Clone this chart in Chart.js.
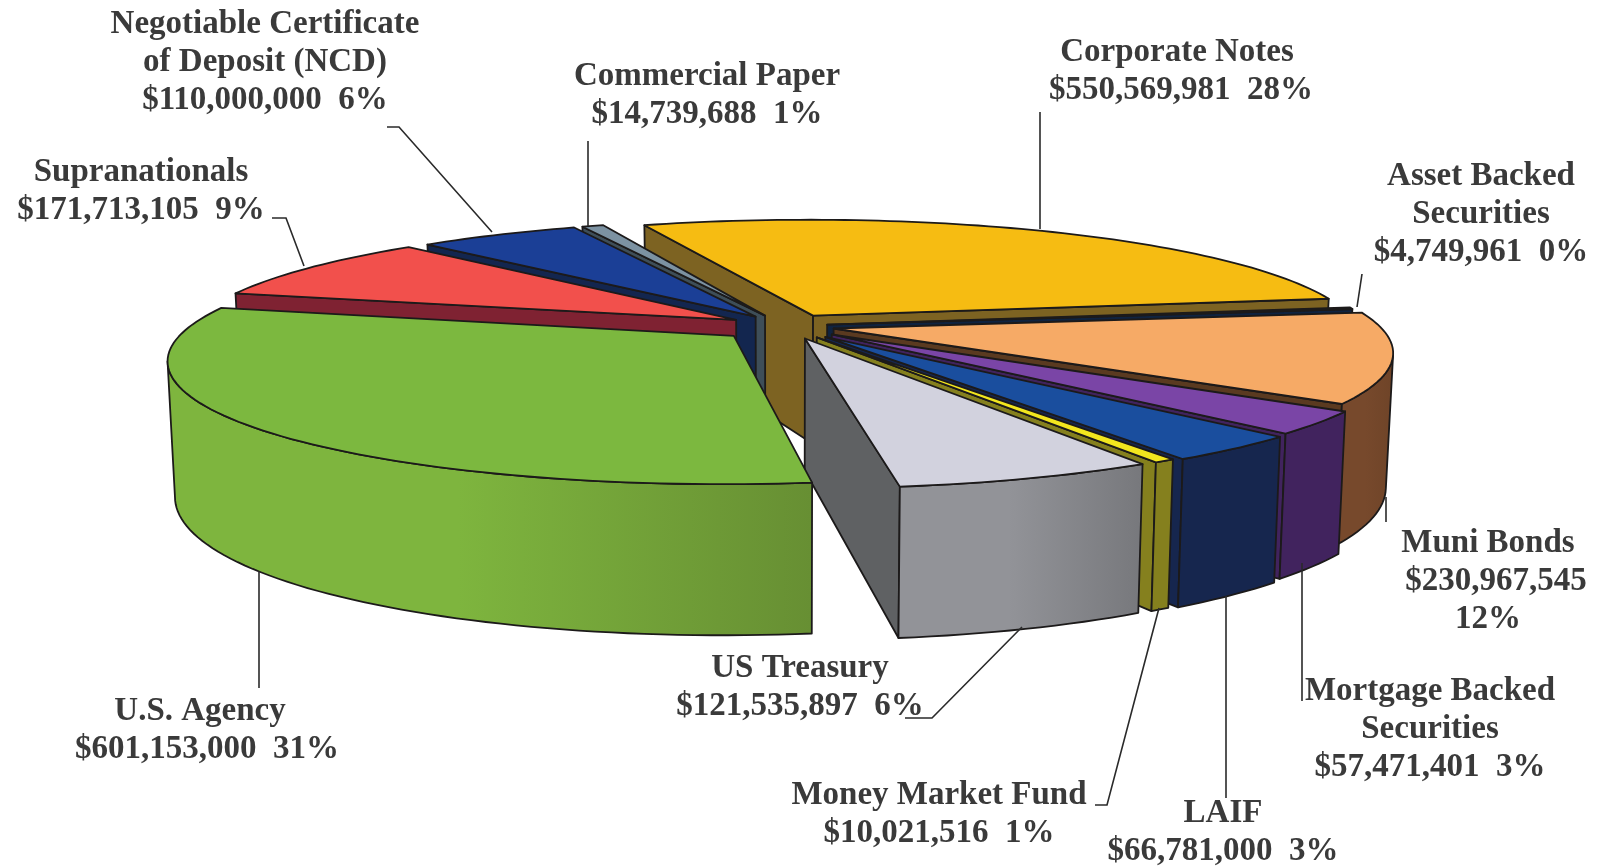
<!DOCTYPE html>
<html>
<head>
<meta charset="utf-8">
<title>Investment portfolio</title>
<script src="https://cdn.jsdelivr.net/npm/chart.js@4"></script>
<style>
  html, body { margin: 0; padding: 0; background: #fff; }
  #wrap { width: 1598px; height: 868px; }
</style>
</head>
<body>
<div id="wrap"><canvas id="pie"></canvas></div>
<script>
const categories = ["Corporate Notes", "Asset Backed Securities", "Muni Bonds", "Mortgage Backed Securities", "LAIF", "Money Market Fund", "US Treasury", "U.S. Agency", "Supranationals", "Negotiable Certificate of Deposit (NCD)", "Commercial Paper"];
const amounts = [550569981, 4749961, 230967545, 57471401, 66781000, 10021516, 121535897, 601153000, 171713105, 110000000, 14739688];
const percents = [28, 0, 12, 3, 3, 1, 6, 31, 9, 6, 1];

const topColors = ["#f6bc12", "#10233f", "#f6aa66", "#7a45a6", "#1a4e9e", "#f2e61e", "#d2d2de", "#7cb83f", "#f2504c", "#1b3f96", "#7c92a2"];
const sideColors = ["#7d6322", "#10233f", "#77492c", "#41235e", "#16264e", "#85801e", "#929398", "#7eb53e", "#7f2232", "#13264f", "#3e4e58"];
const sideDarkColors = ["#7d6322", "#10233f", "#6f4428", "#41235e", "#16264e", "#85801e", "#77787c", "#678f33", "#7f2232", "#13264f", "#3e4e58"];
const cutColors = ["#7d6322", "#10233f", "#5a3a20", "#41235e", "#16264e", "#85801e", "#5f6163", "#6f9b36", "#7f2232", "#13264f", "#3e4e58"];
const sliceOffsets = [32, 24, 28, 34, 36, 34, 34, 38, 32, 30, 30];

// back to front
const paintOrder = [0, 10, 9, 8, 1, 2, 3, 4, 5, 6, 7];

// label text, one row per line; $ and % rows are filled in from the arrays above
const labelRows = [
  ["Corporate Notes"], ["Asset Backed", "Securities"], ["Muni Bonds"], ["Mortgage Backed", "Securities"], ["LAIF"],
  ["Money Market Fund"], ["US Treasury"], ["U.S. Agency"], ["Supranationals"], ["Negotiable Certificate", "of Deposit (NCD)"], ["Commercial Paper"]
];
const labelAnchors = [[1177, 61], [1481, 185], [1490, 552], [1430, 700], [1223, 822], [939, 804], [800, 677], [204, 720], [141, 181], [265, 33], [707, 85]];
// rows that sit off the shared centre line, as in the original layout
const rowShifts = { 0: [0, 4], 2: [-2, 6, -2], 7: [-4, 3] };
const leaderLines = [
  [[1040, 112], [1040, 229]],
  [[1362, 274], [1357, 307]],
  [[1386, 497], [1386, 522]],
  [[1302, 563], [1302, 701]],
  [[1226, 596], [1226, 798]],
  [[1095, 805], [1107, 805], [1159, 608]],
  [[1022, 627], [932, 718], [905, 718]],
  [[259, 571], [259, 688]],
  [[272, 218], [286, 218], [304, 266]],
  [[387, 127], [399, 127], [492, 232]],
  [[588, 141], [588, 226]]
];

const view = { a: 546, b: 117, persp: 0.184, depth: 130, depthPersp: 0.15, shrink: 0.988 };

function money(n) {
  return "$" + n.toLocaleString("en-US");
}

// plane coordinates (unit radius) to screen
function project(cx, cy, u, v) {
  const s = 1 / (1 - view.persp * v);
  return [cx + view.a * u * s, cy + view.b * v * s];
}

function projectLow(cx, cy, u, v) {
  const s = 1 / (1 - view.persp * v);
  return [cx + view.a * u * s * view.shrink, cy + view.b * v * s + view.depth * (1 + view.depthPersp * v)];
}

function pathOf(ctx, pts) {
  ctx.beginPath();
  pts.forEach((p, i) => i ? ctx.lineTo(p[0], p[1]) : ctx.moveTo(p[0], p[1]));
  ctx.closePath();
}

function fillShape(ctx, pts, fill) {
  pathOf(ctx, pts);
  ctx.fillStyle = fill;
  ctx.fill();
  ctx.strokeStyle = "#1c1a1a";
  ctx.lineWidth = 1.8;
  ctx.lineJoin = "round";
  ctx.stroke();
}

// a cut face hangs below its edge, so it only shows if the top of the slice lies above that edge
function cutVisible(tip, end, inner) {
  const ex = end[0] - tip[0], ey = end[1] - tip[1];
  const cross = ex * (inner[1] - tip[1]) - ey * (inner[0] - tip[0]);
  return ex > 0 ? cross < 0 : cross > 0;
}

function drawSlice(ctx, arc, i) {
  const R = arc.outerRadius;
  const mid = (arc.startAngle + arc.endAngle) / 2;
  const off = (arc.options.offset || 0) / R;
  const ox = Math.cos(mid) * off, oy = Math.sin(mid) * off;

  const steps = Math.max(2, Math.ceil((arc.endAngle - arc.startAngle) * 40));
  const rim = [], rimLow = [];
  for (let k = 0; k <= steps; k++) {
    const t = arc.startAngle + (arc.endAngle - arc.startAngle) * k / steps;
    const u = ox + Math.cos(t), v = oy + Math.sin(t);
    rim.push(project(arc.x, arc.y, u, v));
    rimLow.push(projectLow(arc.x, arc.y, u, v));
  }
  const tip = project(arc.x, arc.y, ox, oy);
  const tipLow = projectLow(arc.x, arc.y, ox, oy);
  const inner = rim[Math.floor(steps / 2)];

  if (cutVisible(tip, rim[0], inner)) fillShape(ctx, [tip, rim[0], rimLow[0], tipLow], cutColors[i]);
  if (cutVisible(tip, rim[steps], inner)) fillShape(ctx, [tip, rim[steps], rimLow[steps], tipLow], cutColors[i]);

  // outer wall: only the stretch of rim running right to left faces the viewer
  const up = [], low = [];
  for (let k = 0; k < steps; k++) {
    if (rim[k + 1][0] < rim[k][0]) {
      if (!up.length) { up.push(rim[k]); low.push(rimLow[k]); }
      up.push(rim[k + 1]);
      low.push(rimLow[k + 1]);
    }
  }
  if (up.length) {
    const grad = ctx.createLinearGradient(up[up.length - 1][0], 0, up[0][0], 0);
    grad.addColorStop(0, sideColors[i]);
    grad.addColorStop(0.45, sideColors[i]);
    grad.addColorStop(1, sideDarkColors[i]);
    fillShape(ctx, up.concat(low.reverse()), grad);
  }

  fillShape(ctx, [tip].concat(rim), topColors[i]);
}

const pie3d = {
  id: "pie3d",
  beforeDatasetsDraw(chart) {
    const ctx = chart.ctx;
    const arcs = chart.getDatasetMeta(0).data;
    ctx.save();
    paintOrder.forEach(i => drawSlice(ctx, arcs[i], i));
    ctx.restore();
    return false;
  },
  afterDraw(chart) {
    const ctx = chart.ctx;
    ctx.save();
    ctx.strokeStyle = "#2a2a2a";
    ctx.lineWidth = 1.6;
    leaderLines.forEach(line => {
      ctx.beginPath();
      line.forEach((p, k) => k ? ctx.lineTo(p[0], p[1]) : ctx.moveTo(p[0], p[1]));
      ctx.stroke();
    });
    ctx.fillStyle = "#3a3a3a";
    ctx.font = "bold 33px 'Liberation Serif'";
    ctx.textAlign = "center";
    ctx.textBaseline = "alphabetic";
    labelRows.forEach((rows, i) => {
      const lines = rows.slice();
      if (i === 2) {
        lines.push(money(amounts[i]), percents[i] + "%");
      } else {
        lines.push(money(amounts[i]) + "\u00a0\u00a0" + percents[i] + "%");
      }
      lines.forEach((text, k) => {
        const shift = rowShifts[i] ? rowShifts[i][k] : 0;
        ctx.fillText(text, labelAnchors[i][0] + shift, labelAnchors[i][1] + k * 38);
      });
    });
    ctx.restore();
  }
};

new Chart(document.getElementById("pie"), {
  type: "pie",
  data: {
    labels: categories,
    datasets: [{
      data: amounts,
      backgroundColor: topColors,
      offset: sliceOffsets,
      borderWidth: 0
    }]
  },
  options: {
    responsive: true,
    maintainAspectRatio: false,
    animation: false,
    rotation: -21,
    layout: { padding: { left: 0, right: 28, top: 0, bottom: 216 } },
    plugins: { legend: { display: false }, tooltip: { enabled: false } }
  },
  plugins: [pie3d]
});
</script>
</body>
</html>
